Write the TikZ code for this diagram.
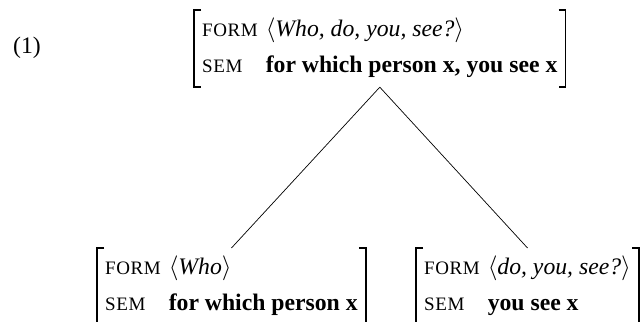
\documentclass[tikz,border=0pt]{standalone}
\usepackage{fontspec}
\setmainfont{Liberation Serif}
\newfontfamily\featfont[LetterSpace=3]{Liberation Serif}
\usetikzlibrary{positioning}
\newcommand{\feat}[1]{{\featfont\fontsize{19}{22}\selectfont #1}}
\newcommand{\avm}[2]{%
  \renewcommand{\arraystretch}{1.3}%
  \begin{tabular}{@{}l@{\hspace{8pt}}l@{}}
    \feat{FORM} & $\langle$\textit{#1}$\rangle$\\
    \feat{SEM}\rule[-14pt]{0pt}{14pt} & \textbf{#2}
  \end{tabular}}
\newcommand{\avmbrackets}[1]{%
  \draw[bracket] ([xshift=7pt]#1.north west) -- (#1.north west) -- (#1.south west) -- ([xshift=7pt]#1.south west);
  \draw[bracket] ([xshift=-7pt]#1.north east) -- (#1.north east) -- (#1.south east) -- ([xshift=-7pt]#1.south east);}
\tikzset{
  avm/.style={inner xsep=8pt,inner ysep=0pt,anchor=north west,font=\fontsize{23.7}{28.4}\selectfont},
  bracket/.style={line width=1.4pt},
  branch/.style={line width=0.7pt}
}

\begin{document}
\begin{tikzpicture}[x=1pt,y=-1pt]
        \useasboundingbox (0,0) rectangle (644,321);
        %Example number
        \node[font=\fontsize{23.7}{28.4}\selectfont] (exnum) at (27,48) {(1)};
        %Mother
        \node[avm] (whole) at (194,10) {\avm{Who, do, you, see?}{for which person x, you see x}};
        %Daughters
        \node[avm] (wh) at (97,248) {\avm{Who}{for which person x}};
        \node[avm] (rest) at (416,248) {\avm{do, you, see?}{you see x}};
        %Brackets
        \avmbrackets{whole}
        \avmbrackets{wh}
        \avmbrackets{rest}
        %Branches
        \draw[branch] (whole.south) -- (wh.north);
        \draw[branch] (whole.south) -- (rest.north);
\end{tikzpicture}
\end{document}
